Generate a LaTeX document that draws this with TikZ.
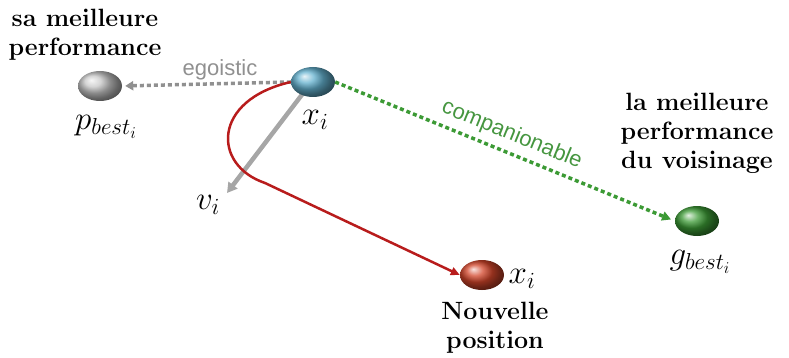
\RequirePackage{fix-cm}
\documentclass[tikz,border=0pt]{standalone}
\usepackage{fontspec}
\setsansfont{Liberation Sans}
\newcommand\lblfont{\fontencoding{OT1}\fontfamily{cmr}\fontseries{bx}\fontshape{n}\selectfont}
\usetikzlibrary{arrows.meta,shapes.geometric}
\definecolor{pblue}{HTML}{3C9DC2}
\definecolor{pgreen}{HTML}{3C9A35}
\definecolor{pred}{HTML}{D2452A}
\definecolor{curvered}{HTML}{B81C1C}
\definecolor{egogray}{HTML}{909090}
\begin{document}
\begin{tikzpicture}[x=1pt,y=-1pt,
  ball/.style={ellipse,inner sep=0pt,minimum width=44pt,minimum height=30pt,shading=ball,ball color=#1},
  lbl/.style={font=\fontsize{25}{29}\lblfont,align=center,inner sep=0pt},
  mth/.style={font=\fontsize{33}{36}\selectfont,inner sep=0pt},
  tag/.style={font=\sffamily\fontsize{22}{24}\selectfont,inner sep=1pt}]
  \useasboundingbox (0,0) rectangle (789,358);
  \coordinate (vtip) at (227,193);
  % velocity arrow (behind the ball)
  \draw[line width=4.5pt,gray!70,-{Triangle[length=10pt,width=11pt]}] (304,92)--(vtip);
  \node[ball=gray!45] (pbest) at (100,86) {};
  \node[ball=pblue!80!white] (xi) at (313,82) {};
  \node[ball=pgreen] (gbest) at (697,221) {};
  \node[ball=pred] (xnew) at (482,275) {};
  % social / cognitive pulls
  \draw[egogray,line width=3.5pt,dash pattern=on 4pt off 3pt,-{Triangle[length=8pt,width=9pt]},shorten >=3pt]
    (xi.west)--(pbest.east) node[tag,pos=.42,above=1pt,text=egogray]{egoistic};
  \draw[pgreen,line width=3.5pt,dash pattern=on 4pt off 3pt,-{Triangle[length=9pt,width=9pt]},shorten >=4pt]
    (xi.east)--(gbest.west) node[tag,pos=.5,sloped,above=5pt,text=pgreen!85!gray]{companionable};
  % new position
  \draw[curvered,line width=2.5pt,-{Triangle[length=9pt,width=8pt]}]
    (xi.west) .. controls (212,100) and (212,165) .. (265,183) -- (xnew.west);
  \node[mth] (lpbest) at (106,127) {$p_{best_i}$};
  \node[mth] (lxi) at (315,120) {$x_i$};
  \node[mth] (lvi) at (208,205) {$v_i$};
  \node[mth] (lgbest) at (700,262) {$g_{best_i}$};
  \node[mth] (lxnew) at (522,279) {$x_i$};
  \node[lbl] (tpbest) at (85,35) {sa meilleure\\performance};
  \node[lbl] (tgbest) at (697,133) {la meilleure\\performance\\du voisinage};
  \node[lbl] (txnew) at (495,328) {Nouvelle\\position};
\end{tikzpicture}
\end{document}
